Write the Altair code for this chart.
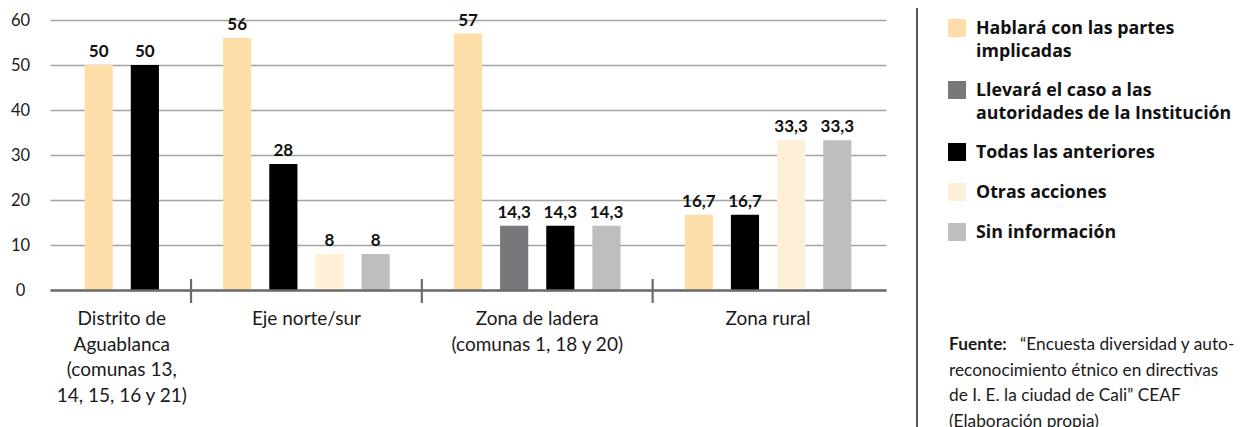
import altair as alt
import pandas as pd

# ---------------- data ----------------
groups = [
    "Distrito de\nAguablanca\n(comunas 13,\n14, 15, 16 y 21)",
    "Eje norte/sur",
    "Zona de ladera\n(comunas 1, 18 y 20)",
    "Zona rural",
]
series_names = [
    "Hablará con las partes implicadas",
    "Llevará el caso a las autoridades de la Institución",
    "Todas las anteriores",
    "Otras acciones",
    "Sin información",
]
legend_labels = [
    "Hablará con las partes\nimplicadas",
    "Llevará el caso a las\nautoridades de la Institución",
    "Todas las anteriores",
    "Otras acciones",
    "Sin información",
]
palette = ["#FDDEA8", "#77787C", "#000000", "#FEEFD6", "#BDBEC0"]

bar_group = [0, 0, 1, 1, 1, 1, 2, 2, 2, 2, 3, 3, 3, 3]
bar_series = [0, 2, 0, 2, 3, 4, 0, 1, 2, 4, 0, 2, 3, 4]
bar_values = [50, 50, 56, 28, 8, 8, 57, 14.3, 14.3, 14.3, 16.7, 16.7, 33.3, 33.3]

y_ticks = [0, 10, 20, 30, 40, 50, 60]

source_bold = "Fuente:"
source_lines = [
    "“Encuesta diversidad y auto-",
    "reconocimiento étnico en directivas",
    "de I. E. la ciudad de Cali” CEAF",
    "(Elaboración propia)",
]

# ---------------- layout ----------------
W, H = 836, 270
P_IN, P_OUT = 0.39, 0.75
FONT = "Lato"
LEG_FONT = "Open Sans"
TXT = "#1a1a1a"

# band slots: one per bar, plus a gap slot between groups
slots, gap_slots, anchor_slots = [], [], []
for g in range(len(groups)):
    keys = [f"b{i}" for i, bg in enumerate(bar_group) if bg == g]
    slots += keys
    anchor_slots.append(keys[len(keys) // 2 - 1])
    if g < len(groups) - 1:
        slots.append(f"gap{g}")
        gap_slots.append(f"gap{g}")
step = W / (len(slots) - P_IN + 2 * P_OUT)

bars = pd.DataFrame({
    "slot": [f"b{i}" for i in range(len(bar_values))],
    "series": [series_names[s] for s in bar_series],
    "value": bar_values,
    "label": [f"{v:g}".replace(".", ",") for v in bar_values],
})
glabels = pd.DataFrame({"slot": anchor_slots, "name": groups})
gaps = pd.DataFrame({"slot": gap_slots})

xscale = alt.Scale(domain=slots, paddingInner=P_IN, paddingOuter=P_OUT)
yscale = alt.Scale(domain=[0, 60], nice=False)
cscale = alt.Scale(domain=series_names, range=palette)

base = alt.Chart(bars)

bar_layer = base.mark_bar().encode(
    x=alt.X("slot:N", scale=xscale, sort=slots,
            axis=alt.Axis(labels=False, ticks=False, title=None, domain=True,
                          domainColor="#6b6b6b", domainWidth=2.4, grid=False, zindex=1)),
    y=alt.Y("value:Q", scale=yscale,
            axis=alt.Axis(values=y_ticks, title=None, domain=False, ticks=False, tickSize=0,
                          grid=True, gridColor="#a3a3a3", gridWidth=1.6,
                          labelAlign="center", labelPadding=30, labelFont=FONT,
                          labelFontSize=16.5, labelColor=TXT)),
    color=alt.Color("series:N", scale=cscale, legend=None),
)

val_layer = base.mark_text(font=FONT, fontSize=17, fontWeight="bold", color="#111",
                           baseline="alphabetic", dy=-8).encode(
    x=alt.X("slot:N", scale=xscale, sort=slots),
    y=alt.Y("value:Q", scale=yscale),
    text="label:N",
)

group_layer = alt.Chart(glabels).mark_text(
    font=FONT, fontSize=19, color=TXT, baseline="top", align="center",
    lineBreak="\n", lineHeight=25.7, dx=step / 2,
).encode(
    x=alt.X("slot:N", scale=xscale, sort=slots),
    y=alt.value(H + 20),
    text="name:N",
)

tick_layer = alt.Chart(gaps).mark_rule(color="#6b6b6b", strokeWidth=2.2).encode(
    x=alt.X("slot:N", scale=xscale, sort=slots),
    y=alt.value(H - 11),
    y2=alt.value(H + 13),
)

sep_layer = alt.Chart(gaps).mark_rule(color="#555555", strokeWidth=2).encode(
    x=alt.value(867), y=alt.value(-12), y2=alt.value(H + 140),
)

# ---------------- manual legend ----------------
legend_layers = []
top = 0
for i, (name, lab) in enumerate(zip(series_names, legend_labels)):
    one = pd.DataFrame({"series": [name], "lab": [lab]})
    legend_layers.append(
        alt.Chart(one).mark_square(size=324, opacity=1).encode(
            x=alt.value(907), y=alt.value(top + 8),
            color=alt.Color("series:N", scale=cscale, legend=None),
        )
    )
    legend_layers.append(
        alt.Chart(one).mark_text(font=LEG_FONT, fontSize=17.8, fontWeight="bold", color="#111",
                                 align="left", baseline="top", lineBreak="\n",
                                 lineHeight=23).encode(
            x=alt.value(926), y=alt.value(top), text="lab:N",
        )
    )
    top += 40 + 22 * lab.count("\n")

# ---------------- source text ----------------
src = pd.DataFrame({"t": [source_bold]})
source_layers = [
    alt.Chart(src).mark_text(font=FONT, fontSize=17.3, fontWeight="bold", color=TXT,
                             align="left", baseline="alphabetic").encode(
        x=alt.value(899), y=alt.value(330), text="t:N"),
]
for k, line in enumerate(source_lines):
    source_layers.append(
        alt.Chart(pd.DataFrame({"t": [line]})).mark_text(
            font=FONT, fontSize=17.3, color=TXT, align="left", baseline="alphabetic").encode(
            x=alt.value(970 if k == 0 else 899), y=alt.value(330 + 25.5 * k), text="t:N")
    )

chart = alt.layer(
    bar_layer, val_layer, group_layer, tick_layer, sep_layer,
    *legend_layers, *source_layers,
).properties(
    width=W, height=H,
    autosize=alt.AutoSizeParams(type="none"),
    padding={"left": 42, "top": 12, "right": 349, "bottom": 137},
).configure_view(stroke=None)

chart.save("out.html", embed_options={"renderer": "svg", "actions": False})
